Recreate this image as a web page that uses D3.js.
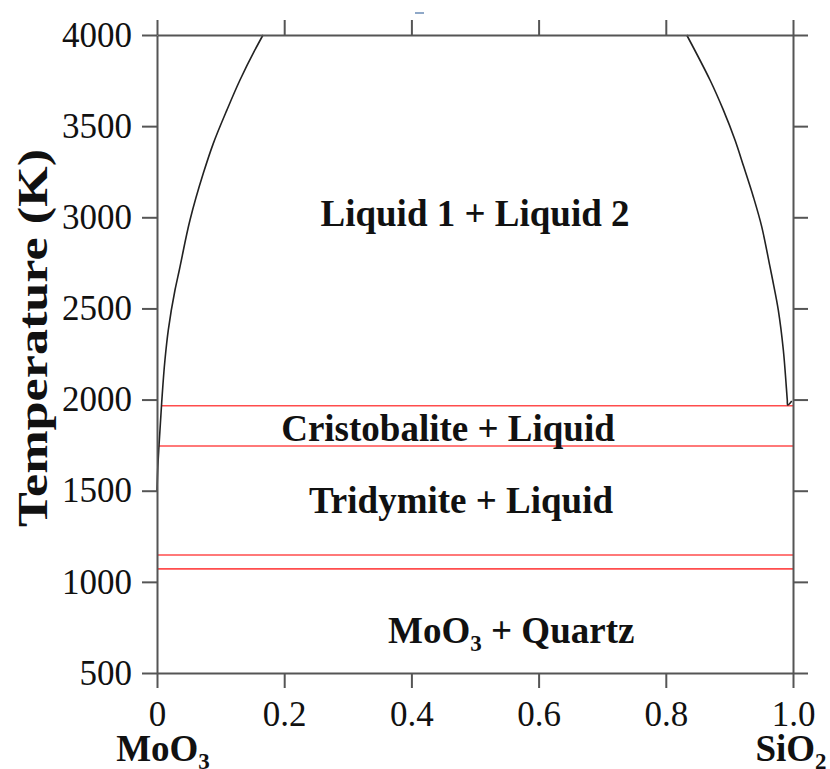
<!DOCTYPE html>
<html>
<head>
<meta charset="utf-8">
<script src="https://cdn.jsdelivr.net/npm/d3@7"></script>
<style>
  html, body { margin: 0; padding: 0; background: #fff; }
  svg { display: block; font-family: "Liberation Serif", "Times New Roman", serif; }
</style>
</head>
<body>
<div id="chart"></div>
<script>
// MoO3 – SiO2 phase diagram
const X_TICKS = [0, 0.2, 0.4, 0.6, 0.8, 1.0];
const X_TICK_LABELS = ["0", "0.2", "0.4", "0.6", "0.8", "1.0"];
const Y_TICKS = [500, 1000, 1500, 2000, 2500, 3000, 3500, 4000];

// miscibility gap, MoO3-rich side (mole fraction SiO2, T in K)
const leftX = [0, 0.0011, 0.0031, 0.0074, 0.0125, 0.0178, 0.0283, 0.0351, 0.0519, 0.0728, 0.088, 0.110, 0.1305, 0.154, 0.1667];
const leftT = [1493, 1614, 1745, 1985, 2217, 2382, 2601, 2711, 2985, 3241, 3400, 3589, 3753, 3918, 4000];

// SiO2-rich side
const rightX = [0.8329, 0.8695, 0.8904, 0.9088, 0.9225, 0.9376, 0.9508, 0.9638, 0.968, 0.9769, 0.9848, 0.991, 0.9917, 0.998];
const rightT = [4000, 3753, 3589, 3424, 3278, 3113, 2949, 2729, 2656, 2491, 2272, 1998, 1970, 1992];

// invariant / transition lines
const lineT  = [1966, 1745, 1147, 1071];
const lineX0 = [0.0078, 0.0031, 0, 0];
const lineX1 = [1, 1, 1, 1];

// field labels
const fieldText = ["Liquid 1 + Liquid 2", "Cristobalite + Liquid", "Tridymite + Liquid", "MoO|3| + Quartz"];
const fieldX = [0.5, 0.4575, 0.478, 0.557];
const fieldT = [3025, 1844, 1449, 736];

const W = 830, H = 769;
const margin = { top: 35, right: 37, bottom: 96, left: 157 };
const AXIS = "#555";
const SERIF = "Liberation Serif, Times New Roman, serif";

const svg = d3.select("#chart").append("svg")
  .attr("width", W).attr("height", H);

const x = d3.scaleLinear().domain([0, 1]).range([margin.left, W - margin.right]);
const y = d3.scaleLinear().domain([500, 4000]).range([H - margin.bottom, margin.top]);

// red horizontal lines
svg.append("g").selectAll("line")
  .data(lineT).join("line")
    .attr("x1", (d, i) => x(lineX0[i]))
    .attr("x2", (d, i) => x(lineX1[i]))
    .attr("y1", d => y(d)).attr("y2", d => y(d))
    .attr("stroke", "#ff4d4d")
    .attr("stroke-width", 1.6);

// curves
const curveLine = d3.line().x(d => x(d[0])).y(d => y(d[1]));
svg.append("path")
  .attr("d", curveLine.curve(d3.curveMonotoneY)(leftX.map((v, i) => [v, leftT[i]])))
  .attr("fill", "none").attr("stroke", "#222").attr("stroke-width", 1.6);
svg.append("path")
  .attr("d", curveLine.curve(d3.curveCatmullRom)(rightX.map((v, i) => [v, rightT[i]])))
  .attr("fill", "none").attr("stroke", "#222").attr("stroke-width", 1.6);

// axes, ticks outward on all four sides
function styleAxis(g){
  g.selectAll(".domain, .tick line").attr("stroke", AXIS).attr("stroke-width", 2);
  g.selectAll("text").attr("fill", "#111").attr("font-size", 35).attr("font-family", SERIF);
}
svg.append("g").attr("transform", `translate(${margin.left},0)`)
  .call(d3.axisLeft(y).tickValues(Y_TICKS).tickSize(15).tickSizeOuter(0).tickPadding(10).tickFormat(d3.format("d")))
  .call(styleAxis);
svg.append("g").attr("transform", `translate(${W - margin.right},0)`)
  .call(d3.axisRight(y).tickValues(Y_TICKS).tickSize(15).tickSizeOuter(0).tickFormat(""))
  .call(styleAxis);
svg.append("g").attr("transform", `translate(0,${margin.top})`)
  .call(d3.axisTop(x).tickValues(X_TICKS).tickSize(15).tickSizeOuter(0).tickFormat(""))
  .call(styleAxis);
svg.append("g").attr("transform", `translate(0,${H - margin.bottom})`)
  .call(d3.axisBottom(x).tickValues(X_TICKS).tickSize(15).tickSizeOuter(0).tickPadding(13)
    .tickFormat((d, i) => X_TICK_LABELS[i]))
  .call(styleAxis);

// subscript-aware text helper: "MoO|3|" -> MoO + sub 3
function richText(sel, str, size){
  const parts = str.split("|");
  parts.forEach((p, i) => {
    if (!p) return;
    if (i % 2 === 1){
      sel.append("tspan").attr("font-size", size * 0.62).attr("dy", size * 0.22).text(p);
    } else {
      const t = sel.append("tspan").text(p);
      if (i > 0) t.attr("dy", -size * 0.22);
    }
  });
}

// field labels
fieldText.forEach((s, i) => {
  const t = svg.append("text")
    .attr("x", x(fieldX[i])).attr("y", y(fieldT[i]))
    .attr("dy", "0.35em")
    .attr("text-anchor", "middle")
    .attr("font-size", 37).attr("font-weight", "bold").attr("fill", "#111");
  richText(t, s, 37);
});

// component labels under the axis
[["MoO|3|", 0, 6], ["SiO|2|", 1, -2]].forEach(([s, v, off]) => {
  const t = svg.append("text")
    .attr("x", x(v) + off).attr("y", 761)
    .attr("text-anchor", "middle")
    .attr("font-size", 37).attr("font-weight", "bold").attr("fill", "#111");
  richText(t, s, 37);
});

// y title
svg.append("text")
  .attr("transform", `translate(47,338) rotate(-90)`)
  .attr("text-anchor", "middle")
  .attr("font-size", 43).attr("font-weight", "bold").attr("fill", "#111")
  .attr("textLength", 378).attr("lengthAdjust", "spacingAndGlyphs")
  .text("Temperature (K)");

// small stray mark at the top of the source figure
svg.append("line")
  .attr("x1", 415).attr("x2", 424).attr("y1", 13).attr("y2", 13)
  .attr("stroke", "#8fa8c8").attr("stroke-width", 2);
</script>
</body>
</html>
